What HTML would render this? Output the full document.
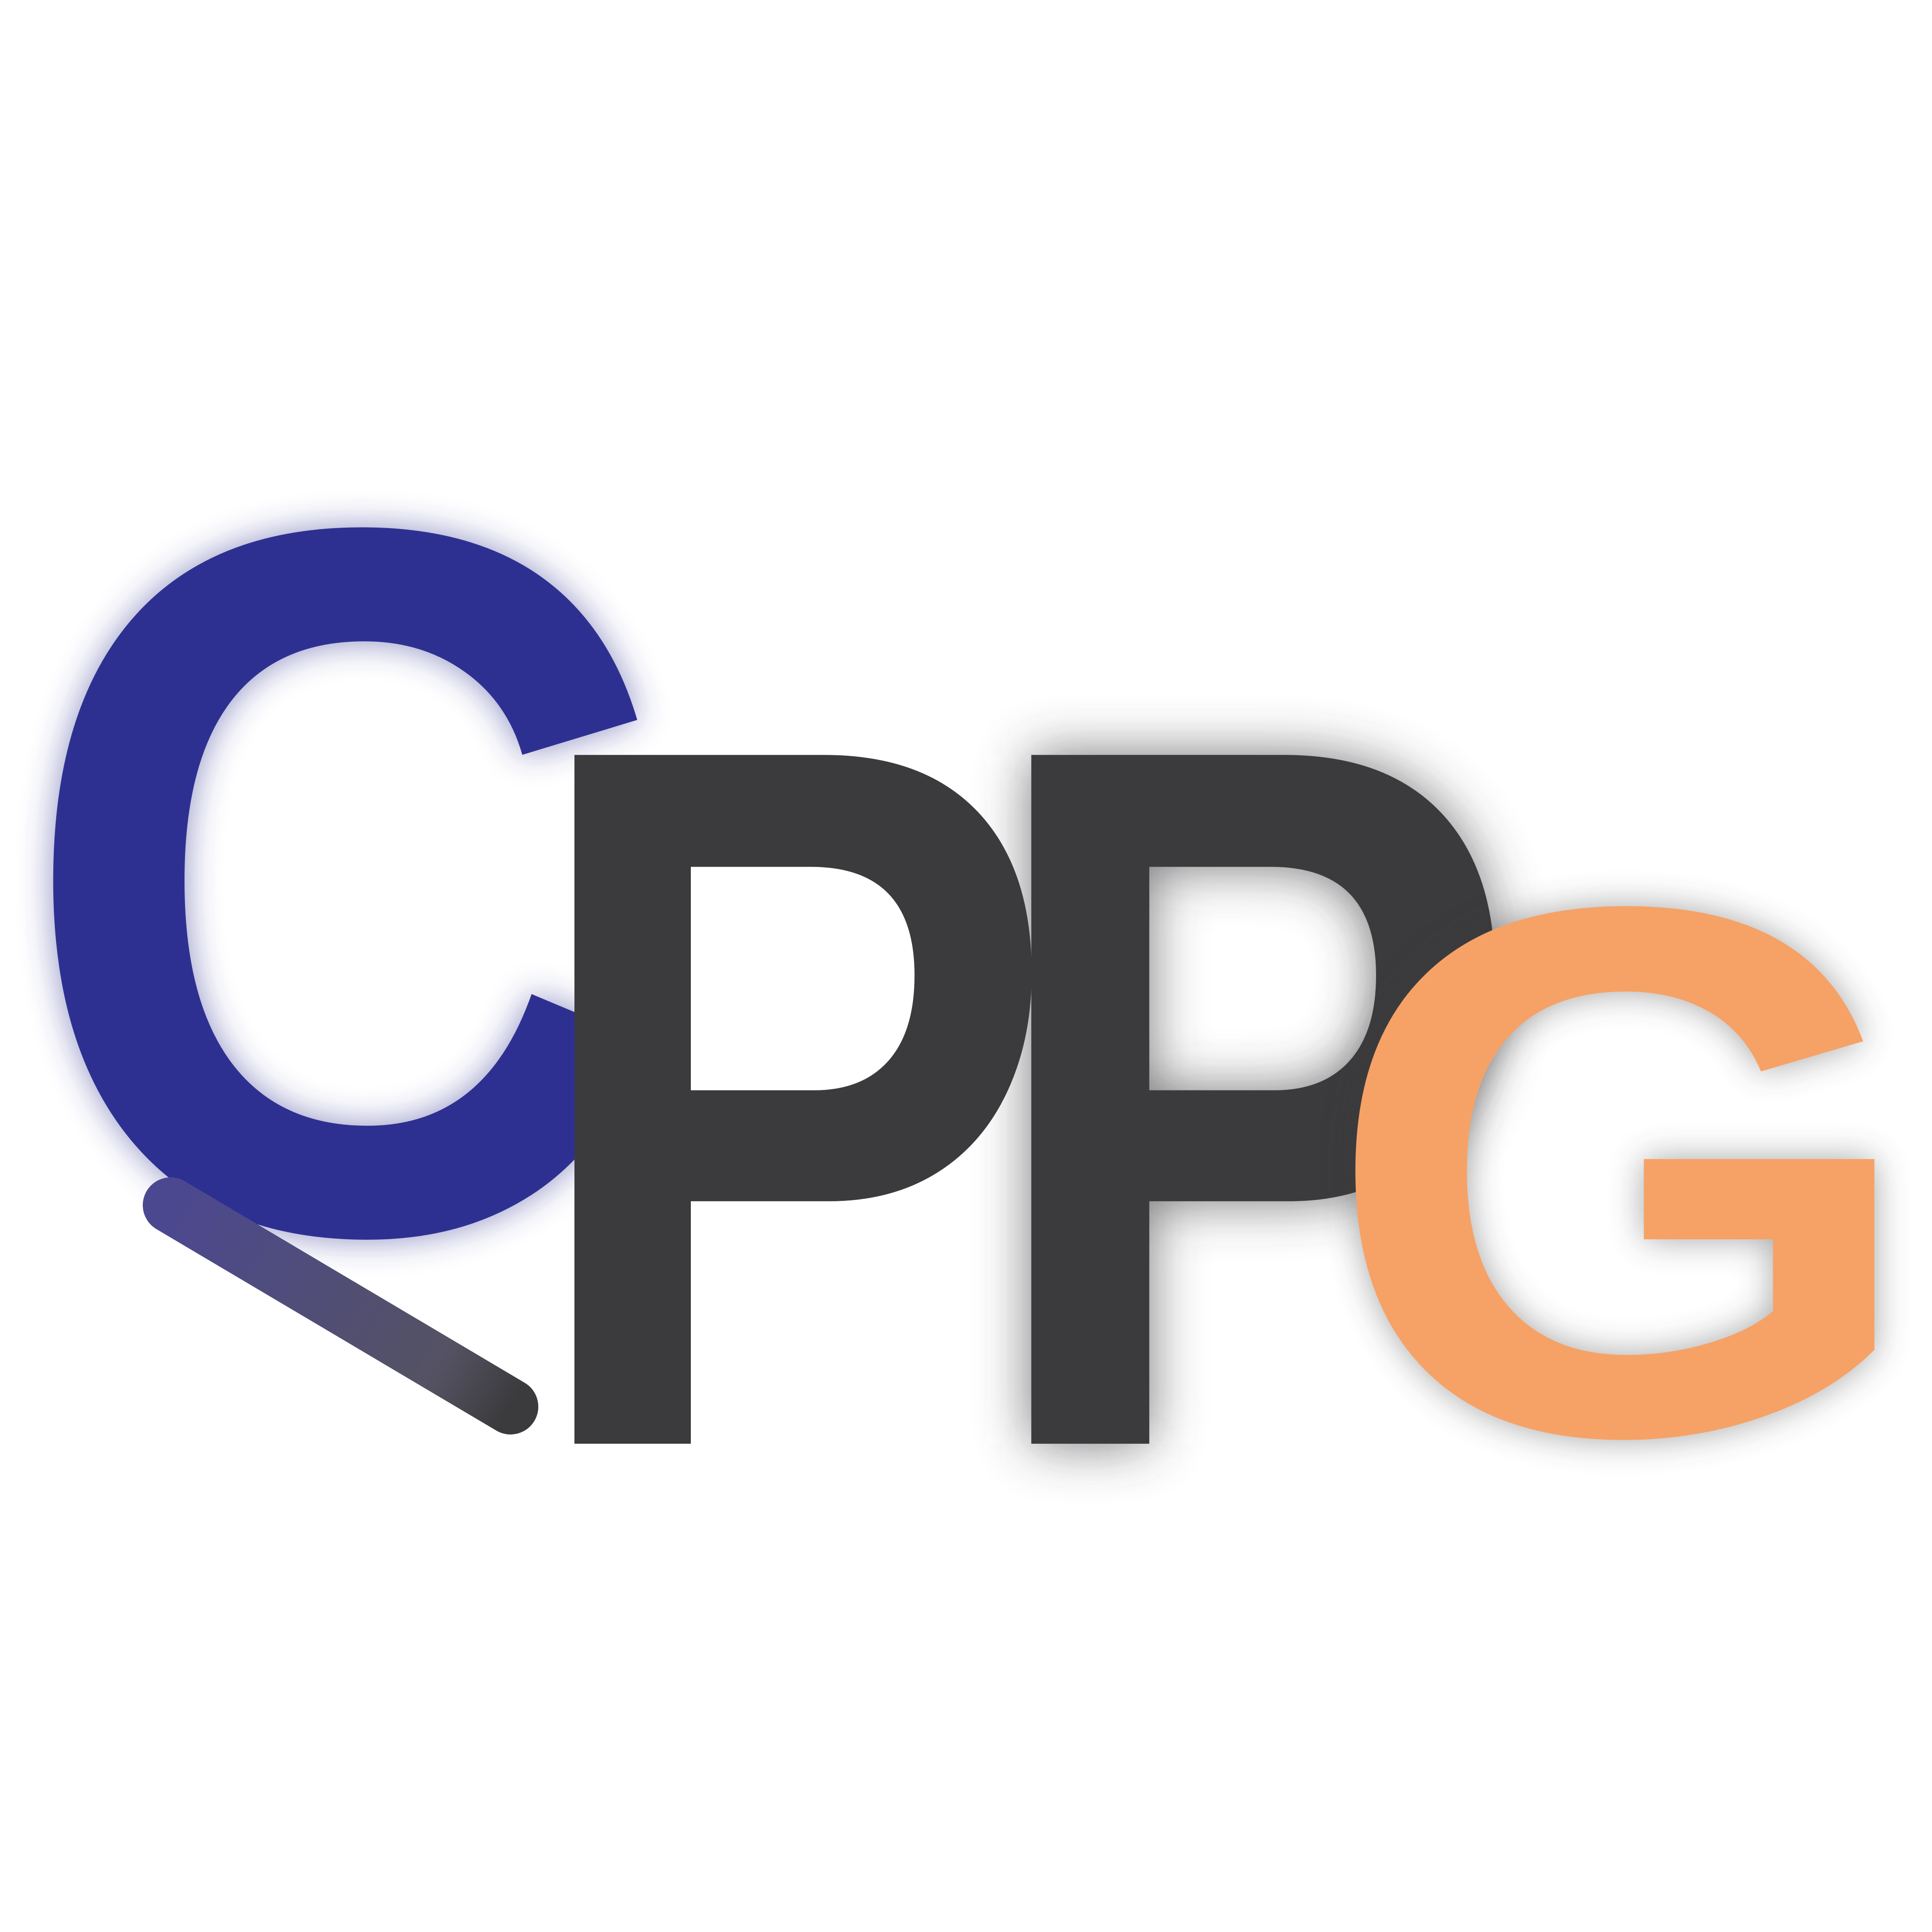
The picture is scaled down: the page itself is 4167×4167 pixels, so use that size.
<!DOCTYPE html>
<html>
<head>
<meta charset="utf-8">
<style>
  html,body{margin:0;padding:0;background:#ffffff;}
  svg{display:block;}
  text{font-family:"Liberation Sans","DejaVu Sans",sans-serif;font-weight:bold;}
</style>
</head>
<body>
<svg width="4167" height="4167" viewBox="0 0 1563 1563" xmlns="http://www.w3.org/2000/svg">
  <defs>
    <filter id="glow" x="-30%" y="-30%" width="160%" height="160%">
      <feGaussianBlur stdDeviation="14"/>
    </filter>
    <filter id="glow2" x="-30%" y="-30%" width="160%" height="160%">
      <feGaussianBlur stdDeviation="22"/>
    </filter>
    <linearGradient id="barGrad" x1="138" y1="975" x2="413" y2="1138" gradientUnits="userSpaceOnUse">
      <stop offset="0" stop-color="#4c4890"/>
      <stop offset="0.8" stop-color="#545262"/>
      <stop offset="1" stop-color="#3b3b3d"/>
    </linearGradient>
  </defs>
  <rect x="0" y="0" width="1563" height="1563" fill="#ffffff"/>

  <text x="13" y="995" font-size="814" textLength="529" lengthAdjust="spacingAndGlyphs" fill="#2e3091" opacity="0.55" filter="url(#glow)">C</text>
  <text x="790" y="1168" font-size="810" textLength="442" lengthAdjust="spacingAndGlyphs" fill="#3b3b3d" opacity="0.7" filter="url(#glow2)">P</text>

  <text x="13" y="995" font-size="814" textLength="529" lengthAdjust="spacingAndGlyphs" fill="#2e3091">C</text>
  <line x1="138" y1="975" x2="413" y2="1138" stroke="url(#barGrad)" stroke-width="45" stroke-linecap="round"/>
  <text x="421" y="1168" font-size="810" textLength="436" lengthAdjust="spacingAndGlyphs" fill="#3b3b3d">P</text>
  <text x="790" y="1168" font-size="810" textLength="442" lengthAdjust="spacingAndGlyphs" fill="#3b3b3d">P</text>
  <text x="1071" y="1159" font-size="610" textLength="484" lengthAdjust="spacingAndGlyphs" fill="#3b3b3d" opacity="0.45" filter="url(#glow)">G</text>
  <text x="1071" y="1159" font-size="610" textLength="484" lengthAdjust="spacingAndGlyphs" fill="#f6a266">G</text>
</svg>
</body>
</html>
